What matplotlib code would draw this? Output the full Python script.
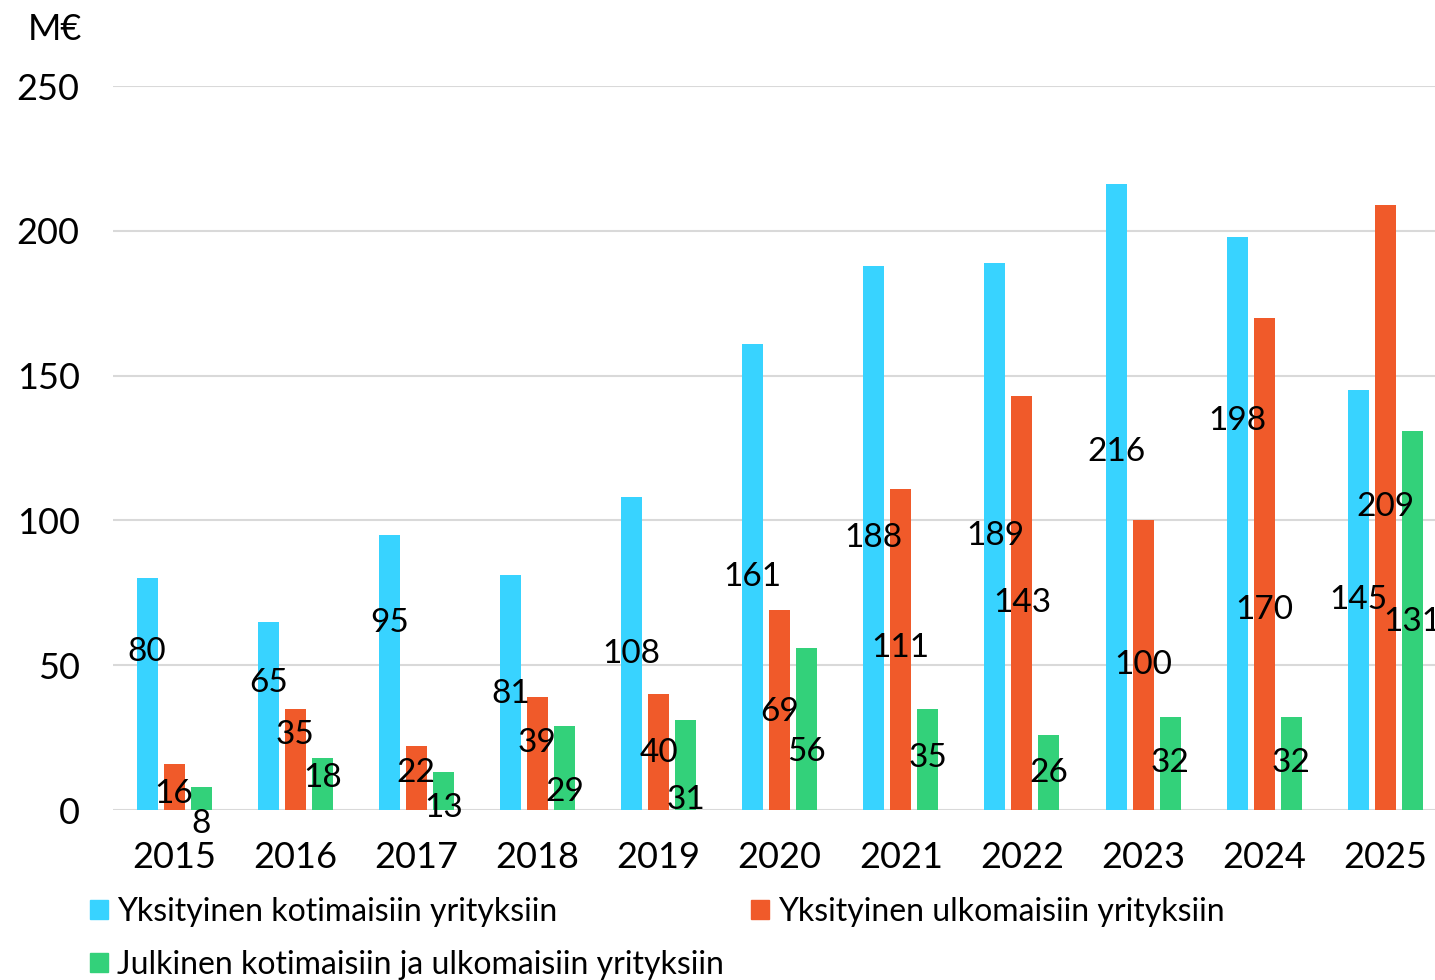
import matplotlib
matplotlib.use("Agg")
import matplotlib.pyplot as plt
from matplotlib.patches import Patch
import numpy as np

years = ["2015", "2016", "2017", "2018", "2019", "2020", "2021", "2022", "2023", "2024", "2025"]
koti = [80, 65, 95, 81, 108, 161, 188, 189, 216, 198, 145]
ulko = [16, 35, 22, 39, 40, 69, 111, 143, 100, 170, 209]
julk = [8, 18, 13, 29, 31, 56, 35, 26, 32, 32, 131]
names = ["Yksityinen kotimaisiin yrityksiin", "Yksityinen ulkomaisiin yrityksiin",
         "Julkinen kotimaisiin ja ulkomaisiin yrityksiin"]
# where the value labels sit (as in the original, not always mid-bar)
koti_lab_y = [54.6, 44, 64.6, 40, 53.9, 80.5, 93.9, 94.6, 123.6, 134.3, 72.5]
ulko_lab_y = [5.5, 25.9, 12.8, 23, 19.7, 33.8, 55.9, 71.5, 50.1, 69, 104.6]
julk_lab_y = [-4.8, 11, 0.7, 6.2, 3.5, 20, 18, 12.8, 16.2, 16.2, 65]

colors = ["#38D3FF", "#F05A2A", "#33D17A"]
plt.rcParams["font.family"] = ["Lato", "DejaVu Sans"]

fig = plt.figure(figsize=(14.35, 9.8), dpi=100)
ax = fig.add_axes([113/1435, 1-810/980, 1-113/1435, (810-86)/980])
x = np.arange(len(years))
w, step = 0.173, 0.223
for i, (vals, laby, c) in enumerate(zip([koti, ulko, julk], [koti_lab_y, ulko_lab_y, julk_lab_y], colors)):
    xs = x + (i-1)*step
    ax.bar(xs, vals, width=w, color=c, zorder=2)
    for xi, v, ly in zip(xs, vals, laby):
        ax.text(xi, ly, str(v), ha="center", va="center", fontsize=24, color="black", zorder=3)

ax.set_xlim(-0.504, 10.41)
ax.set_ylim(0, 250)
ax.set_yticks([0, 50, 100, 150, 200, 250])
ax.set_xticks(x)
ax.set_xticklabels(years)
ax.tick_params(axis="both", length=0, labelsize=26, labelcolor="black")
ax.tick_params(axis="y", pad=24)
ax.tick_params(axis="x", pad=22)
ax.grid(axis="y", color="#d9d9d9", lw=1.5, zorder=0)
for s in ax.spines.values():
    s.set_visible(False)
ax.set_axisbelow(True)

fig.text(82/1435, 1-29/980, "M€", ha="right", va="center", fontsize=26)

# legend: first column blue + green, second column orange
order = [0, 2, 1]
handles = [Patch(color=colors[k]) for k in order]
fig.legend(handles, [names[k] for k in order], ncol=2, loc="upper left",
           bbox_to_anchor=(90/1435, 1-897/980),
           frameon=False, prop={"size": 23},
           handlelength=0.55, handleheight=0.55, handletextpad=0.3,
           columnspacing=0.85, labelspacing=0.72, borderaxespad=0, borderpad=0)

fig.savefig("out.png", dpi=100)
